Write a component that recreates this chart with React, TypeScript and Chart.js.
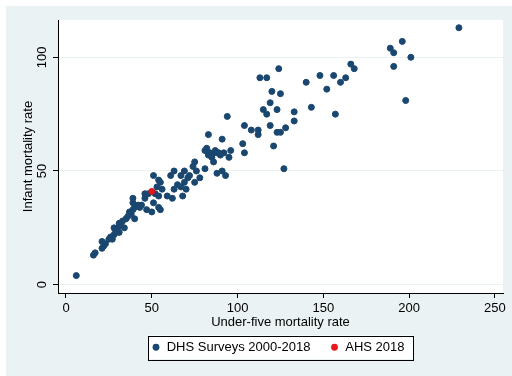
import React, { useEffect, useRef } from "react";
import { Chart, registerables } from "chart.js";
Chart.register(...registerables);

const dhsX = [
  229, 196, 189, 191, 201, 191, 198,
  166, 168, 163, 160, 156, 148, 140, 152, 143, 157, 133, 133, 128,
  124, 113, 117, 120, 125, 119, 115, 123, 117, 119, 112, 112, 108, 104, 123, 125, 121, 127,
  94, 103, 104, 83, 91, 96, 95,
  81, 82, 84, 85, 87, 88, 90, 92, 86, 89, 83, 85,
  88, 91, 93, 81, 78, 75, 74, 76, 75,
  69, 67, 72, 69, 70, 67, 63, 68, 63, 61, 62, 59, 65, 71,
  51, 54, 55, 53, 56, 54, 54, 55, 51, 50, 46, 46, 47, 44, 40, 39, 39, 37, 38, 40, 35, 34, 31, 30, 29, 31, 28, 27, 26, 23, 21, 21, 17, 16, 6,
  52, 48, 43, 36, 33, 32, 29, 25, 22, 42, 39, 28
];
const dhsY = [
  113, 107, 104, 102, 100, 96, 81,
  97, 95, 91, 89, 92, 92, 89, 86, 78, 75, 76, 72, 69,
  95, 91, 91, 85, 84, 80, 77, 77, 75, 70, 68, 66, 68, 70, 67, 67, 61, 51,
  74, 62, 58, 66, 64, 59, 56,
  59, 60, 58, 57, 59, 58, 57, 58, 54, 58, 57, 56,
  49, 50, 48, 51, 47, 54, 52, 50, 45,
  50, 48, 48, 45, 42, 43, 42, 39, 50, 48, 38, 39, 44, 47,
  48, 46, 45, 43, 42, 39, 34, 33, 36, 32, 40, 38, 33, 35, 34, 38, 36, 32, 31, 29, 29, 25, 27, 25, 23, 23, 25, 20, 21, 18, 19, 16, 14, 13, 4,
  40, 40, 34, 30, 28, 26, 24, 20, 17, 35, 33, 22
];
const ahsX = [50];
const ahsY = [41];
const xTicks = [0, 50, 100, 150, 200, 250];
const yTicks = [0, 50, 100];
const seriesLabels = ["DHS Surveys 2000-2018", "AHS 2018"];
const seriesColors = ["#1a476f", "#e8191c"];
const xTitle = "Under-five mortality rate";
const yTitle = "Infant mortality rate";

const FONT = "'Liberation Sans', Arial, sans-serif";

export default function App() {
  const ref = useRef<HTMLCanvasElement | null>(null);

  useEffect(() => {
    const canvas = ref.current;
    if (!canvas) return;

    const bgPlugin = {
      id: "bgPlugin",
      beforeDraw(chart: any) {
        const { ctx, chartArea } = chart;
        ctx.save();
        ctx.fillStyle = "#ffffff";
        ctx.fillRect(0, 0, chart.width, chart.height);
        ctx.fillStyle = "#eaf2f3";
        ctx.fillRect(6, 6, chart.width - 6, chart.height - 6);
        ctx.fillStyle = "#ffffff";
        ctx.fillRect(chartArea.left, chartArea.top, chartArea.right - chartArea.left, chartArea.bottom - chartArea.top);
        ctx.restore();
      },
    };

    const textPlugin = {
      id: "textPlugin",
      afterDraw(chart: any) {
        const { ctx, chartArea, scales } = chart;
        const xs = scales.x;
        const ys = scales.y;
        ctx.save();
        ctx.fillStyle = "#000";
        ctx.font = `13px ${FONT}`;
        ctx.textAlign = "center";
        ctx.textBaseline = "middle";
        // x tick labels
        xTicks.forEach((v) => {
          ctx.fillText(String(v), xs.getPixelForValue(v), 308.5);
        });
        // y tick labels rotated
        yTicks.forEach((v) => {
          const py = ys.getPixelForValue(v);
          ctx.save();
          ctx.translate(42, py);
          ctx.rotate(-Math.PI / 2);
          ctx.fillText(String(v), 0, 0);
          ctx.restore();
        });
        const cx = (chartArea.left + chartArea.right) / 2;
        const cy = (chartArea.top + chartArea.bottom) / 2;
        // titles
        ctx.fillText(xTitle, cx, 322);
        ctx.save();
        ctx.translate(28.5, cy);
        ctx.rotate(-Math.PI / 2);
        ctx.fillText(yTitle, 0, 0);
        ctx.restore();
        // legend
        const w1 = ctx.measureText(seriesLabels[0]).width;
        const w2 = ctx.measureText(seriesLabels[1]).width;
        const padL = 8, markGap = 10.7, itemGap = 24, padR = 8.5;
        const total = padL + markGap + w1 + itemGap + markGap + w2 + padR;
        const left = cx - total / 2;
        const top = 335.5, bottom = 359;
        ctx.fillStyle = "#ffffff";
        ctx.fillRect(left, top, total, bottom - top);
        ctx.strokeStyle = "#000";
        ctx.lineWidth = 1;
        ctx.strokeRect(Math.round(left) + 0.5, Math.round(top) + 0.5, Math.round(total), Math.round(bottom - top));
        const my = (top + bottom) / 2;
        let xx = left + padL;
        ctx.fillStyle = seriesColors[0];
        ctx.beginPath();
        ctx.arc(xx, my, 3.4, 0, Math.PI * 2);
        ctx.fill();
        ctx.fillStyle = "#000";
        ctx.textAlign = "left";
        ctx.fillText(seriesLabels[0], xx + markGap, my);
        xx = xx + markGap + w1 + itemGap;
        ctx.fillStyle = seriesColors[1];
        ctx.beginPath();
        ctx.arc(xx, my, 3.4, 0, Math.PI * 2);
        ctx.fill();
        ctx.fillStyle = "#000";
        ctx.fillText(seriesLabels[1], xx + markGap, my);
        ctx.restore();
      },
    };

    const chart = new Chart(canvas, {
      type: "scatter",
      data: {
        datasets: [
          {
            label: seriesLabels[0],
            data: dhsX.map((x, i) => ({ x, y: dhsY[i] })),
            backgroundColor: seriesColors[0],
            borderColor: seriesColors[0],
            borderWidth: 1,
            pointRadius: 3,
            order: 2,
          },
          {
            label: seriesLabels[1],
            data: ahsX.map((x, i) => ({ x, y: ahsY[i] })),
            backgroundColor: seriesColors[1],
            borderColor: "#c8141a",
            borderWidth: 1,
            pointRadius: 3,
            order: 1,
          },
        ],
      },
      options: {
        responsive: false,
        animation: false,
        devicePixelRatio: 1,
        layout: { padding: { top: 20, left: 0, right: 9, bottom: 0 } },
        plugins: {
          legend: { display: false },
          tooltip: { enabled: false },
        },
        scales: {
          x: {
            type: "linear",
            min: -4.66,
            max: 254.7,
            afterBuildTicks: (s: any) => {
              s.ticks = xTicks.map((v) => ({ value: v }));
            },
            afterFit: (s: any) => {
              s.height = 83;
            },
            ticks: { display: false },
            grid: {
              display: true,
              drawOnChartArea: false,
              drawTicks: true,
              tickLength: 5,
              tickColor: "#000",
              color: "#000",
            },
            border: { display: true, color: "#000", width: 1 },
          },
          y: {
            type: "linear",
            min: -3.65,
            max: 116.4,
            afterBuildTicks: (s: any) => {
              s.ticks = yTicks.map((v) => ({ value: v }));
            },
            afterFit: (s: any) => {
              s.width = 58;
            },
            ticks: { display: false },
            grid: {
              display: true,
              drawOnChartArea: true,
              drawTicks: true,
              tickLength: 5,
              tickColor: "#000",
              color: "#eaf2f3",
            },
            border: { display: true, color: "#000", width: 1 },
          },
        },
      },
      plugins: [bgPlugin, textPlugin],
    } as any);

    return () => chart.destroy();
  }, []);

  return (
    <div style={{ position: "absolute", left: 0, top: 0, width: 512, height: 376 }}>
      <canvas ref={ref} width={512} height={376} style={{ display: "block" }} />
    </div>
  );
}
